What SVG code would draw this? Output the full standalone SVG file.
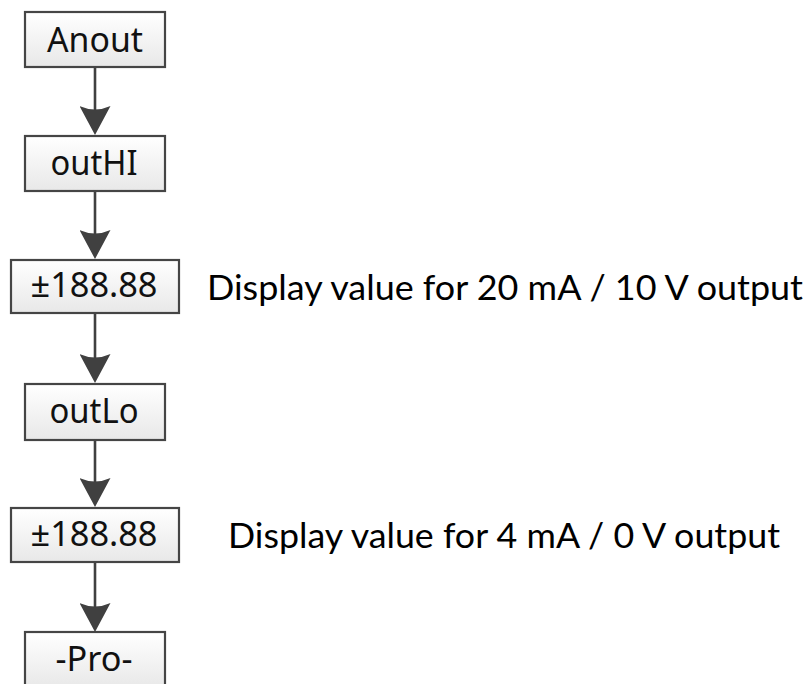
<svg xmlns="http://www.w3.org/2000/svg" width="809" height="684" viewBox="0 0 809 684">
<defs>
<linearGradient id="boxfill" x1="0" y1="0" x2="0" y2="1">
<stop offset="0" stop-color="#ffffff"/>
<stop offset="1" stop-color="#e8e8e8"/>
</linearGradient>
<marker id="arr" viewBox="0 0 29 31" markerWidth="29" markerHeight="31" refX="10" refY="15.5" orient="auto" markerUnits="userSpaceOnUse">
<path d="M29,15.5 L0,0 Q7,15.5 0,31 Z" fill="#404040"/>
</marker>
<style>
.box{fill:url(#boxfill);stroke:#454545;stroke-width:2.2}
.lbl{font-family:"Noto Sans","Open Sans","Liberation Sans",sans-serif;font-size:34px;fill:#111;text-anchor:middle}
.note{font-family:Lato,"Open Sans","Liberation Sans",sans-serif;font-size:34px;fill:#000}
.con{stroke:#404040;stroke-width:2.6;fill:none}
</style>
</defs>
<rect width="809" height="684" fill="#ffffff"/>
<g id="connectors">
<line class="con" x1="95" y1="67" x2="95" y2="116" marker-end="url(#arr)"/>
<line class="con" x1="95" y1="191" x2="95" y2="240" marker-end="url(#arr)"/>
<line class="con" x1="95" y1="313" x2="95" y2="364" marker-end="url(#arr)"/>
<line class="con" x1="95" y1="440" x2="95" y2="488" marker-end="url(#arr)"/>
<line class="con" x1="95" y1="562" x2="95" y2="613" marker-end="url(#arr)"/>
</g>
<g id="n-anout">
<rect class="box" x="25" y="12" width="140" height="55"/>
<text class="lbl" x="95" y="52" textLength="96" lengthAdjust="spacingAndGlyphs">Anout</text>
</g>
<g id="n-outhi">
<rect class="box" x="25" y="136" width="140" height="55"/>
<text class="lbl" x="94" y="175" textLength="87" lengthAdjust="spacingAndGlyphs">outHI</text>
</g>
<g id="n-val1">
<rect class="box" x="11" y="260" width="168" height="53"/>
<text class="lbl" x="94" y="297" textLength="127" lengthAdjust="spacingAndGlyphs">±188.88</text>
</g>
<g id="n-outlo">
<rect class="box" x="25" y="384" width="140" height="56"/>
<text class="lbl" x="94" y="423" textLength="89" lengthAdjust="spacingAndGlyphs">outLo</text>
</g>
<g id="n-val2">
<rect class="box" x="11" y="508" width="168" height="54"/>
<text class="lbl" x="94" y="546" textLength="127" lengthAdjust="spacingAndGlyphs">±188.88</text>
</g>
<g id="n-pro">
<rect class="box" x="25" y="632" width="140" height="56"/>
<text class="lbl" x="94" y="671" textLength="77" lengthAdjust="spacingAndGlyphs">-Pro-</text>
</g>
<g id="notes">
<text class="note" x="207" y="300" textLength="596" lengthAdjust="spacingAndGlyphs">Display value for 20 mA / 10 V output</text>
<text class="note" x="228" y="548" textLength="552" lengthAdjust="spacingAndGlyphs">Display value for 4 mA / 0 V output</text>
</g>
</svg>
